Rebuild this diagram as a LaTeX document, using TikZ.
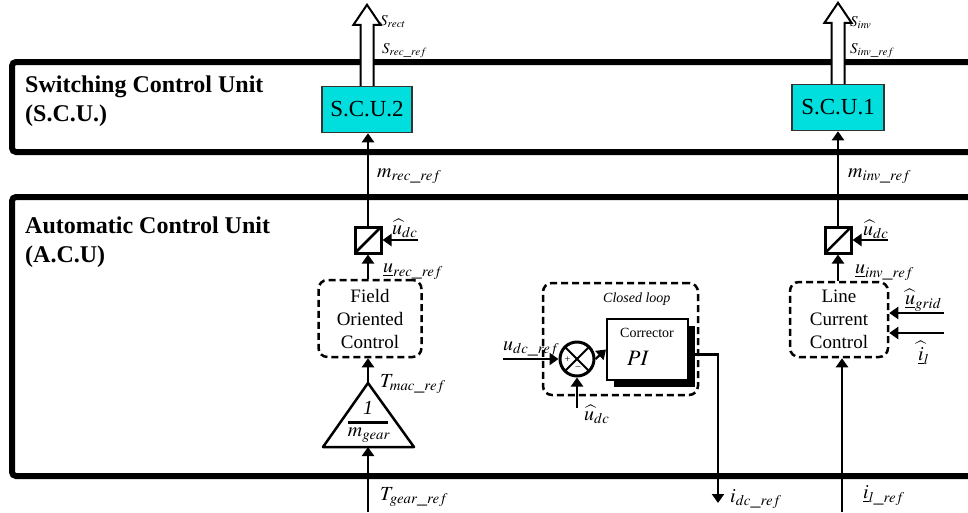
\documentclass[tikz,border=0pt]{standalone}
\usepackage{mathptmx}
\usepackage[no-math]{fontspec}
\setmainfont{Liberation Serif}
\usepackage{tikz}
\usetikzlibrary{arrows.meta, positioning, calc, shadows}
\definecolor{scucyan}{RGB}{0,222,222}
\tikzset{
  band/.style={line width=6pt, rounded corners=4pt},
  unittitle/.style={font=\fontsize{24}{28.5}\selectfont\bfseries, align=left,
                    inner sep=0pt, anchor=north west},
  scu/.style={rectangle, draw=black!80, line width=1.5pt, minimum width=90pt,
              minimum height=46pt, inner sep=0pt, font=\fontsize{23}{26}\selectfont,
              fill=scucyan},
  hollow/.style={draw, line width=2pt, fill=white, line join=miter},
  conv/.style={rectangle, draw, line width=3pt, minimum size=26pt, inner sep=0pt,
               path picture={\draw[line width=2.5pt]
                 (path picture bounding box.south west) -- (path picture bounding box.north east);}},
  ctrl/.style={rectangle, draw, dash pattern=on 7pt off 4pt, line width=2.5pt,
               rounded corners=9pt, align=center, inner sep=0pt,
               font=\fontsize{19}{23}\selectfont},
  sumnode/.style={circle, draw, line width=3pt, minimum size=34pt, inner sep=0pt,
                  path picture={\draw[line width=2pt]
                    (path picture bounding box.north west) -- (path picture bounding box.south east)
                    (path picture bounding box.north east) -- (path picture bounding box.south west);}},
  pibox/.style={rectangle, draw, line width=2pt, fill=white, minimum width=81pt,
                minimum height=61pt, inner sep=0pt,
                drop shadow={shadow xshift=7pt, shadow yshift=-7pt, fill=black, opacity=1}},
  arr/.style={-{Triangle[length=9pt,width=12pt]}, line width=2.2pt},
  lbl/.style={inner sep=0pt, anchor=base west, font=\fontsize{20}{24}\selectfont},
  slbl/.style={inner sep=0pt, anchor=base west, font=\fontsize{15}{18}\selectfont},
  sign/.style={inner sep=0pt, font=\fontsize{10}{12}\selectfont},
}

\begin{document}
\begin{tikzpicture}[x=1pt, y=-1pt]
  \useasboundingbox (0,0) rectangle (968,512);

  % the two units
  \draw[band] (985,62) -- (12,62) -- (12,152) -- (985,152);
  \draw[band] (985,197) -- (12,197) -- (12,476) -- (985,476);
  \node[unittitle] (scutitle) at (25,75.8) {Switching Control Unit\\(S.C.U.)};
  \node[unittitle] (acutitle) at (25,216.8) {Automatic Control Unit\\(A.C.U)};

  % switching blocks
  \node[scu] (scurec) at (367,109.5) {S.C.U.2};
  \node[scu, minimum width=92pt] (scuinv) at (838,107.5) {S.C.U.1};
  \foreach \blk in {scurec, scuinv}
    \draw[hollow] ([xshift=-6.5pt]\blk.north) -- ++(0,-61) -- ++(-7,0) -- ++(13.5,-20)
      -- ++(13.5,20) -- ++(-7,0) -- ([xshift=6.5pt]\blk.north);
  \node[slbl] (srect)   at (380,25) {$S_{rect}$};
  \node[slbl] (srecref) at (382,53) {$S_{rec\_ref}$};
  \node[slbl] (sinv)    at (850,26) {$S_{inv}$};
  \node[slbl] (sinvref) at (850,53) {$S_{inv\_ref}$};

  % rectifier side
  \node[conv] (cvrec) at (368,240) {};
  \node[ctrl, minimum width=103pt, minimum height=77pt] (foc) at (370,318.5)
    {Field\\Oriented\\Control};
  \coordinate (gapex) at (368,383);
  \coordinate (gbase) at (368,447);
  \draw[line width=2.5pt, line join=round] (gapex) -- (323,447) -- (414,447) -- cycle;
  \draw[line width=3pt] (348,422) -- (388,422);
  \node[inner sep=0pt, font=\fontsize{20}{24}\selectfont\itshape] (gnum) at (368,408) {1};
  \node[inner sep=0pt, font=\fontsize{20}{24}\selectfont] (gden) at (369,435) {$m_{gear}$};
  \coordinate (tgin) at (368,512);
  \coordinate (udcrec) at (418,240);

  \draw[arr] (tgin) -- (gbase);
  \draw[arr] (gapex) -- (gapex |- foc.south);
  \draw[arr] (cvrec.south |- foc.north) -- (cvrec.south);
  \draw[arr] (cvrec.north) -- (cvrec.north |- scurec.south);
  \draw[arr] (udcrec) -- (cvrec.east);

  \node[lbl] (tgearref) at (380,500) {$T_{gear\_ref}$};
  \node[lbl] (tmacref)  at (380,387) {$T_{mac\_ref}$};
  \node[lbl] (urecref)  at (383,272) {$\underline{u}_{rec\_ref}$};
  \node[lbl] (udchrec)  at (392,234) {$\widehat{u}_{dc}$};
  \node[lbl] (mrecref)  at (377,177) {$m_{rec\_ref}$};

  % dc voltage loop
  \node[ctrl, minimum width=155pt, minimum height=112pt] (loop) at (620.5,339) {};
  \node[inner sep=0pt, anchor=base west, font=\fontsize{14}{16}\selectfont\itshape]
    (looplbl) at (603,302) {Closed loop};
  \node[sumnode] (sum) at (577,359) {};
  \node[sign] (plus)  at (567.5,360) {+};
  \node[sign] (minus) at (578,368.5) {--};
  \node[pibox] (pi) at (647.5,349.5) {};
  \node[inner sep=0pt, anchor=base west, font=\fontsize{14}{16}\selectfont]
    (corr) at (620,337) {Corrector};
  \node[inner sep=0pt, anchor=base west, font=\fontsize{22}{26}\selectfont]
    (pitxt) at (627,365) {$PI$};
  \coordinate (udcin) at (503,359);
  \coordinate (udcfb) at (577,408);
  \coordinate (idcout) at (718,503);

  \draw[arr] (udcin) -- (sum.west);
  \draw[arr] (udcfb) -- (sum.south);
  \draw[arr] (sum.east) -- (pi.west);
  \draw[arr] ([yshift=-5pt]pi.east) -| (idcout);

  \node[lbl] (udcref) at (503,350) {$u_{dc\_ref}$};
  \node[lbl] (udchfb) at (584,420) {$\widehat{u}_{dc}$};
  \node[lbl] (idcref) at (730,502) {$i_{dc\_ref}$};

  % inverter side
  \node[conv] (cvinv) at (838,240) {};
  \node[ctrl, minimum width=98pt, minimum height=75pt] (lcc) at (839,319.5)
    {Line\\Current\\Control};
  \coordinate (ilin)   at (842,512);
  \coordinate (udcinv) at (888,240);
  \coordinate (ugin)   at (944,313);
  \coordinate (iin)    at (944,333);

  \draw[arr] (ilin) -- (ilin |- lcc.south);
  \draw[arr] (cvinv.south |- lcc.north) -- (cvinv.south);
  \draw[arr] (cvinv.north) -- (cvinv.north |- scuinv.south);
  \draw[arr] (udcinv) -- (cvinv.east);
  \draw[arr] (ugin) -- (ugin -| lcc.east);
  \draw[arr] (iin) -- (iin -| lcc.east);

  \node[lbl] (ilref)   at (863,498) {$\underline{i}_{l\_ref}$};
  \node[lbl] (uinvref) at (855,273) {$\underline{u}_{inv\_ref}$};
  \node[lbl] (udchinv) at (863,235) {$\widehat{u}_{dc}$};
  \node[lbl] (minvref) at (848,177) {$m_{inv\_ref}$};
  \node[lbl] (ugrid)   at (905,304) {$\widehat{\underline{u}}_{grid}$};
  \node[lbl] (ilhat)   at (918,360) {$\widehat{\underline{i}}_{l}$};
\end{tikzpicture}
\end{document}
